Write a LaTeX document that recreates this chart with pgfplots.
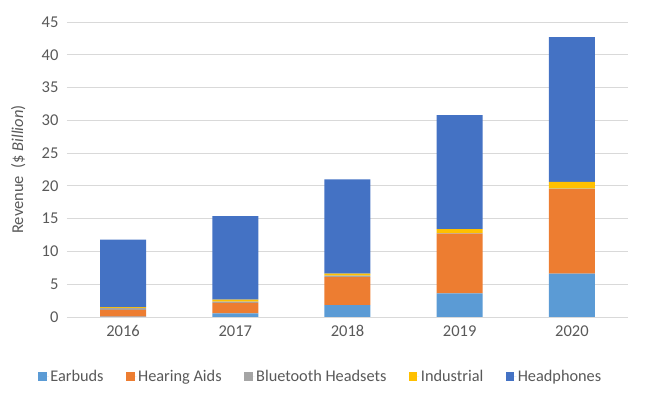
\documentclass[border=0pt]{standalone}
\usepackage{pgfplots}
\pgfplotsset{compat=1.18}
\usepackage{fontspec}
\setmainfont{Carlito}
\definecolor{cEar}{HTML}{5B9BD5}
\definecolor{cHear}{HTML}{ED7D31}
\definecolor{cBlue}{HTML}{A5A5A5}
\definecolor{cInd}{HTML}{FFC000}
\definecolor{cHead}{HTML}{4472C4}
\definecolor{txt}{HTML}{595959}
\definecolor{gridc}{HTML}{D9D9D9}
\begin{document}
\begin{tikzpicture}
\begin{axis}[
  scale only axis, width=561pt, height=295pt,
  ybar stacked, bar width=46pt,
  xmin=-0.5, xmax=4.5, ymin=0, ymax=45,
  xtick={0,1,2,3,4}, xticklabels={2016,2017,2018,2019,2020},
  ytick={0,5,...,45},
  xmajorgrids=false, ymajorgrids=true,
  grid style={draw=gridc, line width=0.8pt},
  axis line style={draw=none},
  major tick length=0pt,
  tick label style={font=\fontsize{16.5}{18}\selectfont, text=txt},
  /pgf/number format/assume math mode=true,
  yticklabel style={xshift=-5pt},
  xticklabel style={yshift=-5pt},
  ylabel={Revenue \ (\$ \textit{Billion})},
  ylabel style={font=\fontsize{16.5}{18}\selectfont, text=txt, at={(axis description cs:-0.087,0.5)}, anchor=center},
  legend style={at={(0.452,-0.203)}, anchor=center, legend columns=-1, draw=none,
    font=\fontsize{16.3}{18}\selectfont, text=txt, inner sep=0pt,
    nodes={inner sep=1.5pt},
    /tikz/every even column/.append style={column sep=21pt}},
  legend image code/.code={\fill[#1] (0pt,-4pt) rectangle (8.5pt,4.5pt); \path (0pt,0pt) -- (10.5pt,0pt);},
]
\addplot[fill=cEar, draw=none] coordinates {(0,0.05) (1,0.55) (2,1.8) (3,3.6) (4,6.6)};
\addplot[fill=cHear, draw=none] coordinates {(0,1.05) (1,1.6) (2,4.3) (3,9.1) (4,12.9)};
\addplot[fill=cBlue, draw=none] coordinates {(0,0.3) (1,0.2) (2,0.2) (3,0.1) (4,0.1)};
\addplot[fill=cInd, draw=none] coordinates {(0,0.1) (1,0.3) (2,0.3) (3,0.6) (4,1.0)};
\addplot[fill=cHead, draw=none] coordinates {(0,10.3) (1,12.75) (2,14.4) (3,17.4) (4,22.1)};
\legend{Earbuds, Hearing Aids, Bluetooth Headsets, Industrial, Headphones}
\end{axis}
\pgfresetboundingbox
\path (-67pt,-78pt) rectangle (590pt,317pt);
\end{tikzpicture}
\end{document}
